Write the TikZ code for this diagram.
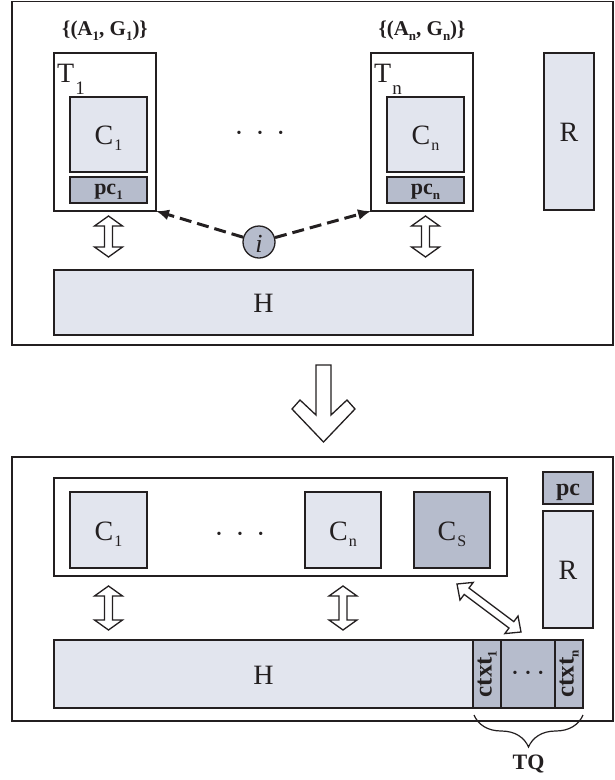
\documentclass[tikz,border=0pt]{standalone}
\usepackage{fontspec}
\setmainfont{Liberation Serif}
\usetikzlibrary{calc,decorations.pathreplacing,arrows.meta}
\definecolor{lightf}{RGB}{226,229,238}
\definecolor{darkf}{RGB}{182,188,204}
\definecolor{ink}{RGB}{35,31,32}
\newcommand{\SubC}[1]{\kern1pt\raisebox{-6pt}{\fontsize{16}{16}\selectfont #1}}
\newcommand{\SubT}[1]{\kern1pt\raisebox{-12pt}{\fontsize{19}{19}\selectfont #1}}
\newcommand{\SubB}[1]{\raisebox{-5pt}{\fontsize{13}{13}\selectfont #1}}
\newcommand{\rectnode}[6]{\node[#1, anchor=north west, minimum width={#5-#3}, minimum height={#6-#4}] (#2) at (#3,#4) {};}
\newcommand{\dblarrow}[5]{%
  \coordinate (h1) at ($(#1)!#3!(#2)$);
  \coordinate (h2) at ($(#2)!#3!(#1)$);
  \draw[hollow] (#1) -- ($(h1)!#4!90:(#2)$) -- ($(h1)!#5!90:(#2)$) -- ($(h2)!#5!-90:(#1)$)
    -- ($(h2)!#4!-90:(#1)$) -- (#2) -- ($(h2)!#4!90:(#1)$) -- ($(h2)!#5!90:(#1)$)
    -- ($(h1)!#5!-90:(#2)$) -- ($(h1)!#4!-90:(#2)$) -- cycle;}
\begin{document}
\begin{tikzpicture}[x=1pt,y=-1pt,
  box/.style={draw=ink, line width=1.3pt, inner sep=0pt, outer sep=0pt},
  lightbox/.style={box, fill=lightf},
  darkbox/.style={box, fill=darkf},
  lab/.style={anchor=base, inner sep=0pt, font=\fontsize{28}{28}\selectfont, text=ink},
  blab/.style={anchor=base, inner sep=0pt, font=\bfseries\fontsize{21}{21}\selectfont, text=ink},
  hollow/.style={draw=ink, fill=white, line width=1.3pt, line join=miter},
  dasharrow/.style={draw=ink, line width=3pt, dash pattern=on 12pt off 6pt, -{Latex[length=13pt,width=11pt]}},
]
\useasboundingbox (0,0) rectangle (615,780);
% ---------- top panel ----------
\rectnode{box}{outerA}{12}{1.5}{613}{345}
\rectnode{box}{T1}{54}{53}{156}{211}
\rectnode{lightbox}{C1t}{70}{97}{147}{172}
\rectnode{darkbox}{pc1}{70}{177}{147}{203}
\rectnode{box}{Tn}{371}{53}{473}{211}
\rectnode{lightbox}{Cnt}{387}{97}{464}{172}
\rectnode{darkbox}{pcn}{387}{177}{464}{203}
\rectnode{lightbox}{Rt}{544}{53}{594}{210}
\rectnode{lightbox}{Ht}{54}{270}{473}{335}
\node[blab] (ag1) at ($(T1.north)+(0,-18)$) {\{(A\SubB{1}, G\SubB{1})\}};
\node[blab] (agn) at ($(Tn.north)+(0,-18)$) {\{(A\SubB{n}, G\SubB{n})\}};
\node[lab, anchor=base west] (T1L) at ($(T1.north west)+(3,29)$) {T\SubT{1}};
\node[lab, anchor=base west] (TnL) at ($(Tn.north west)+(3,29)$) {T\SubT{n}};
\node[lab] (C1tL) at ($(C1t.center)+(0,10)$) {C\SubC{1}};
\node[lab] (CntL) at ($(Cnt.center)+(0,10)$) {C\SubC{n}};
\node[blab, font=\bfseries\fontsize{22}{22}\selectfont] (pc1L) at ($(pc1.center)+(0,4)$) {pc\SubB{1}};
\node[blab, font=\bfseries\fontsize{22}{22}\selectfont] (pcnL) at ($(pcn.center)+(0,4)$) {pc\SubB{n}};
\node[lab] (RtL) at ($(Rt.center)+(0,10)$) {R};
\node[lab] (HtL) at ($(Ht.center)+(0,10)$) {H};
\node[inner sep=0pt, font=\fontsize{14}{14}\selectfont, text=ink] (dotsT) at (260,134) {•\hspace{16pt}•\hspace{16pt}•};
\node[circle, draw=ink, fill=darkf, line width=1.3pt, minimum size=32pt, inner sep=0pt] (ic) at (259,242) {};
\node[anchor=base, inner sep=0pt, font=\itshape\fontsize{26}{26}\selectfont, text=ink] (icL) at ($(ic.center)+(0,10)$) {i};
\draw[dasharrow] (ic) -- (T1.south east);
\draw[dasharrow] (ic) -- (Tn.south west);
\coordinate (a1s) at ($(C1t.center |- T1.south)+(0,5)$);
\coordinate (a1e) at ($(C1t.center |- Ht.north)+(0,-13)$);
\dblarrow{a1s}{a1e}{10pt}{14pt}{4pt}
\coordinate (ans) at ($(Cnt.center |- Tn.south)+(0,5)$);
\coordinate (ane) at ($(Cnt.center |- Ht.north)+(0,-13)$);
\dblarrow{ans}{ane}{10pt}{14pt}{4pt}
% ---------- transition arrow ----------
\begin{scope}[shift={(323.5,365)}]
\draw[hollow] (-7.5,0) -- (7.5,0) -- (7.5,50) -- (23.5,35) -- (31.5,44) -- (0,77)
  -- (-31.5,44) -- (-23.5,35) -- (-7.5,50) -- cycle;
\end{scope}
% ---------- bottom panel ----------
\rectnode{box}{outerB}{12}{457}{613}{721}
\rectnode{box}{inner}{54}{478}{507}{576}
\rectnode{lightbox}{C1b}{70}{492}{147}{568}
\rectnode{lightbox}{Cnb}{305}{492}{381}{568}
\rectnode{darkbox}{Csb}{414}{492}{490}{568}
\rectnode{darkbox}{pcb}{543}{472}{593}{504}
\rectnode{lightbox}{Rb}{543}{511}{593}{628}
\rectnode{lightbox}{Hb}{54}{640}{473}{708}
\rectnode{darkbox}{ctxmid}{501}{640}{555}{708}
\node[darkbox, rotate=90, minimum width=68pt, minimum height=28pt, font=\bfseries\fontsize{25}{25}\selectfont, text=ink] (ctx1) at (487,674) {ctxt\SubB{1}};
\node[darkbox, rotate=90, minimum width=68pt, minimum height=28pt, font=\bfseries\fontsize{25}{25}\selectfont, text=ink] (ctxn) at (569,674) {ctxt\SubB{n}};
\node[lab] (C1bL) at ($(C1b.center)+(0,10)$) {C\SubC{1}};
\node[lab] (CnbL) at ($(Cnb.center)+(0,10)$) {C\SubC{n}};
\node[lab] (CsbL) at ($(Csb.center)+(0,10)$) {C\SubC{S}};
\node[blab, font=\bfseries\fontsize{24}{24}\selectfont] (pcbL) at ($(pcb.center)+(0,7)$) {pc};
\node[lab] (RbL) at ($(Rb.center)+(0,10)$) {R};
\node[lab] (HbL) at ($(Hb.center)+(0,10)$) {H};
\node[inner sep=0pt, font=\fontsize{14}{14}\selectfont, text=ink] (dotsB) at (240,535) {•\hspace{16pt}•\hspace{16pt}•};
\node[inner sep=0pt, font=\fontsize{14}{14}\selectfont, text=ink] (dotsQ) at (ctxmid.center) {•\hspace{8pt}•\hspace{8pt}•};
\coordinate (b1s) at ($(C1b.center |- inner.south)+(0,10)$);
\coordinate (b1e) at ($(C1b.center |- Hb.north)+(0,-10)$);
\dblarrow{b1s}{b1e}{10pt}{14pt}{4pt}
\coordinate (bns) at ($(Cnb.center |- inner.south)+(0,10)$);
\coordinate (bne) at ($(Cnb.center |- Hb.north)+(0,-10)$);
\dblarrow{bns}{bne}{10pt}{14pt}{4pt}
\coordinate (ds) at ($(Csb.south east)+(-33,16)$);
\coordinate (de) at ($(Rb.south west)+(-22,4)$);
\dblarrow{ds}{de}{12pt}{11pt}{4pt}
\coordinate (brL) at ($(Hb.south east)+(1,7)$);
\coordinate (brR) at ($(ctxmid.south east)+(28,7)$);
\draw[draw=ink, line width=1.2pt, decorate, decoration={brace, mirror, amplitude=32pt}] (brL) -- (brR);
\node[blab, font=\bfseries\fontsize{22}{22}\selectfont] (tq) at ($(brL)!0.5!(brR)+(0,54)$) {TQ};
\end{tikzpicture}
\end{document}
